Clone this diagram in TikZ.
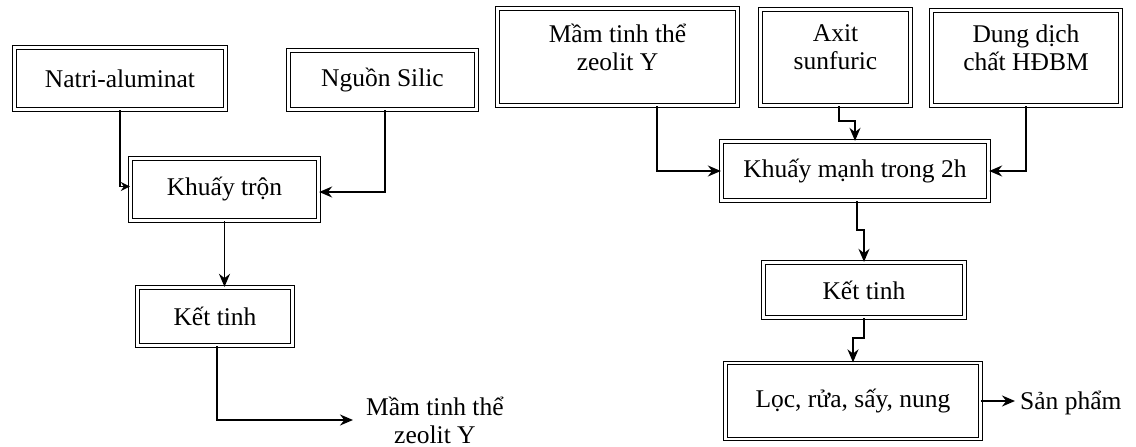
\documentclass[tikz,border=0pt]{standalone}
\usepackage{fontspec}
\setmainfont{Liberation Serif}
\usetikzlibrary{arrows.meta}
\newcommand\myfs{\fontsize{25.5}{28}\selectfont}
\begin{document}
\begin{tikzpicture}[x=1pt,y=-1pt,
  box/.style={draw, double, line width=1.3pt, double distance=2.2pt, inner sep=0pt, align=center, font=\myfs},
  lbl/.style={inner sep=0pt, align=center, font=\myfs},
  arr/.style={line width=1.6pt, -{Stealth[length=13pt,width=11pt]}},
  arrs/.style={line width=1.6pt, -{Stealth[length=9pt,width=9pt]}}]
\useasboundingbox (0,0) rectangle (1136,447);
% left column
\node[box, minimum width=211pt, minimum height=62pt] (natri) at (120,78.5) {Natri-aluminat};
\node[box, minimum width=188pt, minimum height=59pt] (silic) at (382.5,80) {Nguồn Silic};
\node[box, minimum width=188pt, minimum height=62pt] (khuay) at (224.5,189.5) {Khuấy trộn};
\node[box, minimum width=155pt, minimum height=58pt] (ket1) at (215,316.5) {Kết tinh};
\node[lbl, anchor=west] (mamout) at (366,420) {Mầm tinh thể\\zeolit Y};
\draw[arrs] (natri.south) |- ([yshift=3pt]khuay.west);
\draw[arr] ([xshift=2.5pt]silic.south) |- ([yshift=-2.5pt]khuay.east);
\draw[arr] (khuay.south) -- (khuay.south |- ket1.north);
\draw[arr] ([xshift=2pt]ket1.south) |- ([xshift=-13pt,yshift=0pt]mamout.west);
% right column
\node[box, minimum width=240pt, minimum height=97pt] (mam) at (617.5,57) {Mầm tinh thể\\zeolit Y\\[-8pt]};
\node[box, minimum width=150pt, minimum height=96pt] (axit) at (835.5,57.5) {Axit\\sunfuric\\[-8pt]};
\node[box, minimum width=189pt, minimum height=95pt] (dung) at (1026,58) {Dung dịch\\chất HĐBM\\[-8pt]};
\node[box, minimum width=267pt, minimum height=59pt] (khm) at (855,171) {Khuấy mạnh trong 2h};
\node[box, minimum width=201pt, minimum height=55pt] (ket2) at (864,290) {Kết tinh};
\node[box, minimum width=255pt, minimum height=76pt] (loc) at (853,401) {Lọc, rửa, sấy, nung};
\node[lbl, anchor=west] (sp) at (1020,403) {Sản phẩm};
\draw[arr] ([xshift=39.5pt]mam.south) |- (khm.west);
\draw[arr] ([xshift=3.5pt]axit.south) -- ++(0,15) -| (khm.north);
\draw[arr] (dung.south) |- (khm.east);
\draw[arr] ([xshift=2pt]khm.south) -- ++(0,29) -| (ket2.north);
\draw[arr] (ket2.south) -- ++(0,20) -| (loc.north);
\draw[arr] (loc.east) -- ([xshift=-5pt]sp.west |- loc.east);
\end{tikzpicture}
\end{document}
